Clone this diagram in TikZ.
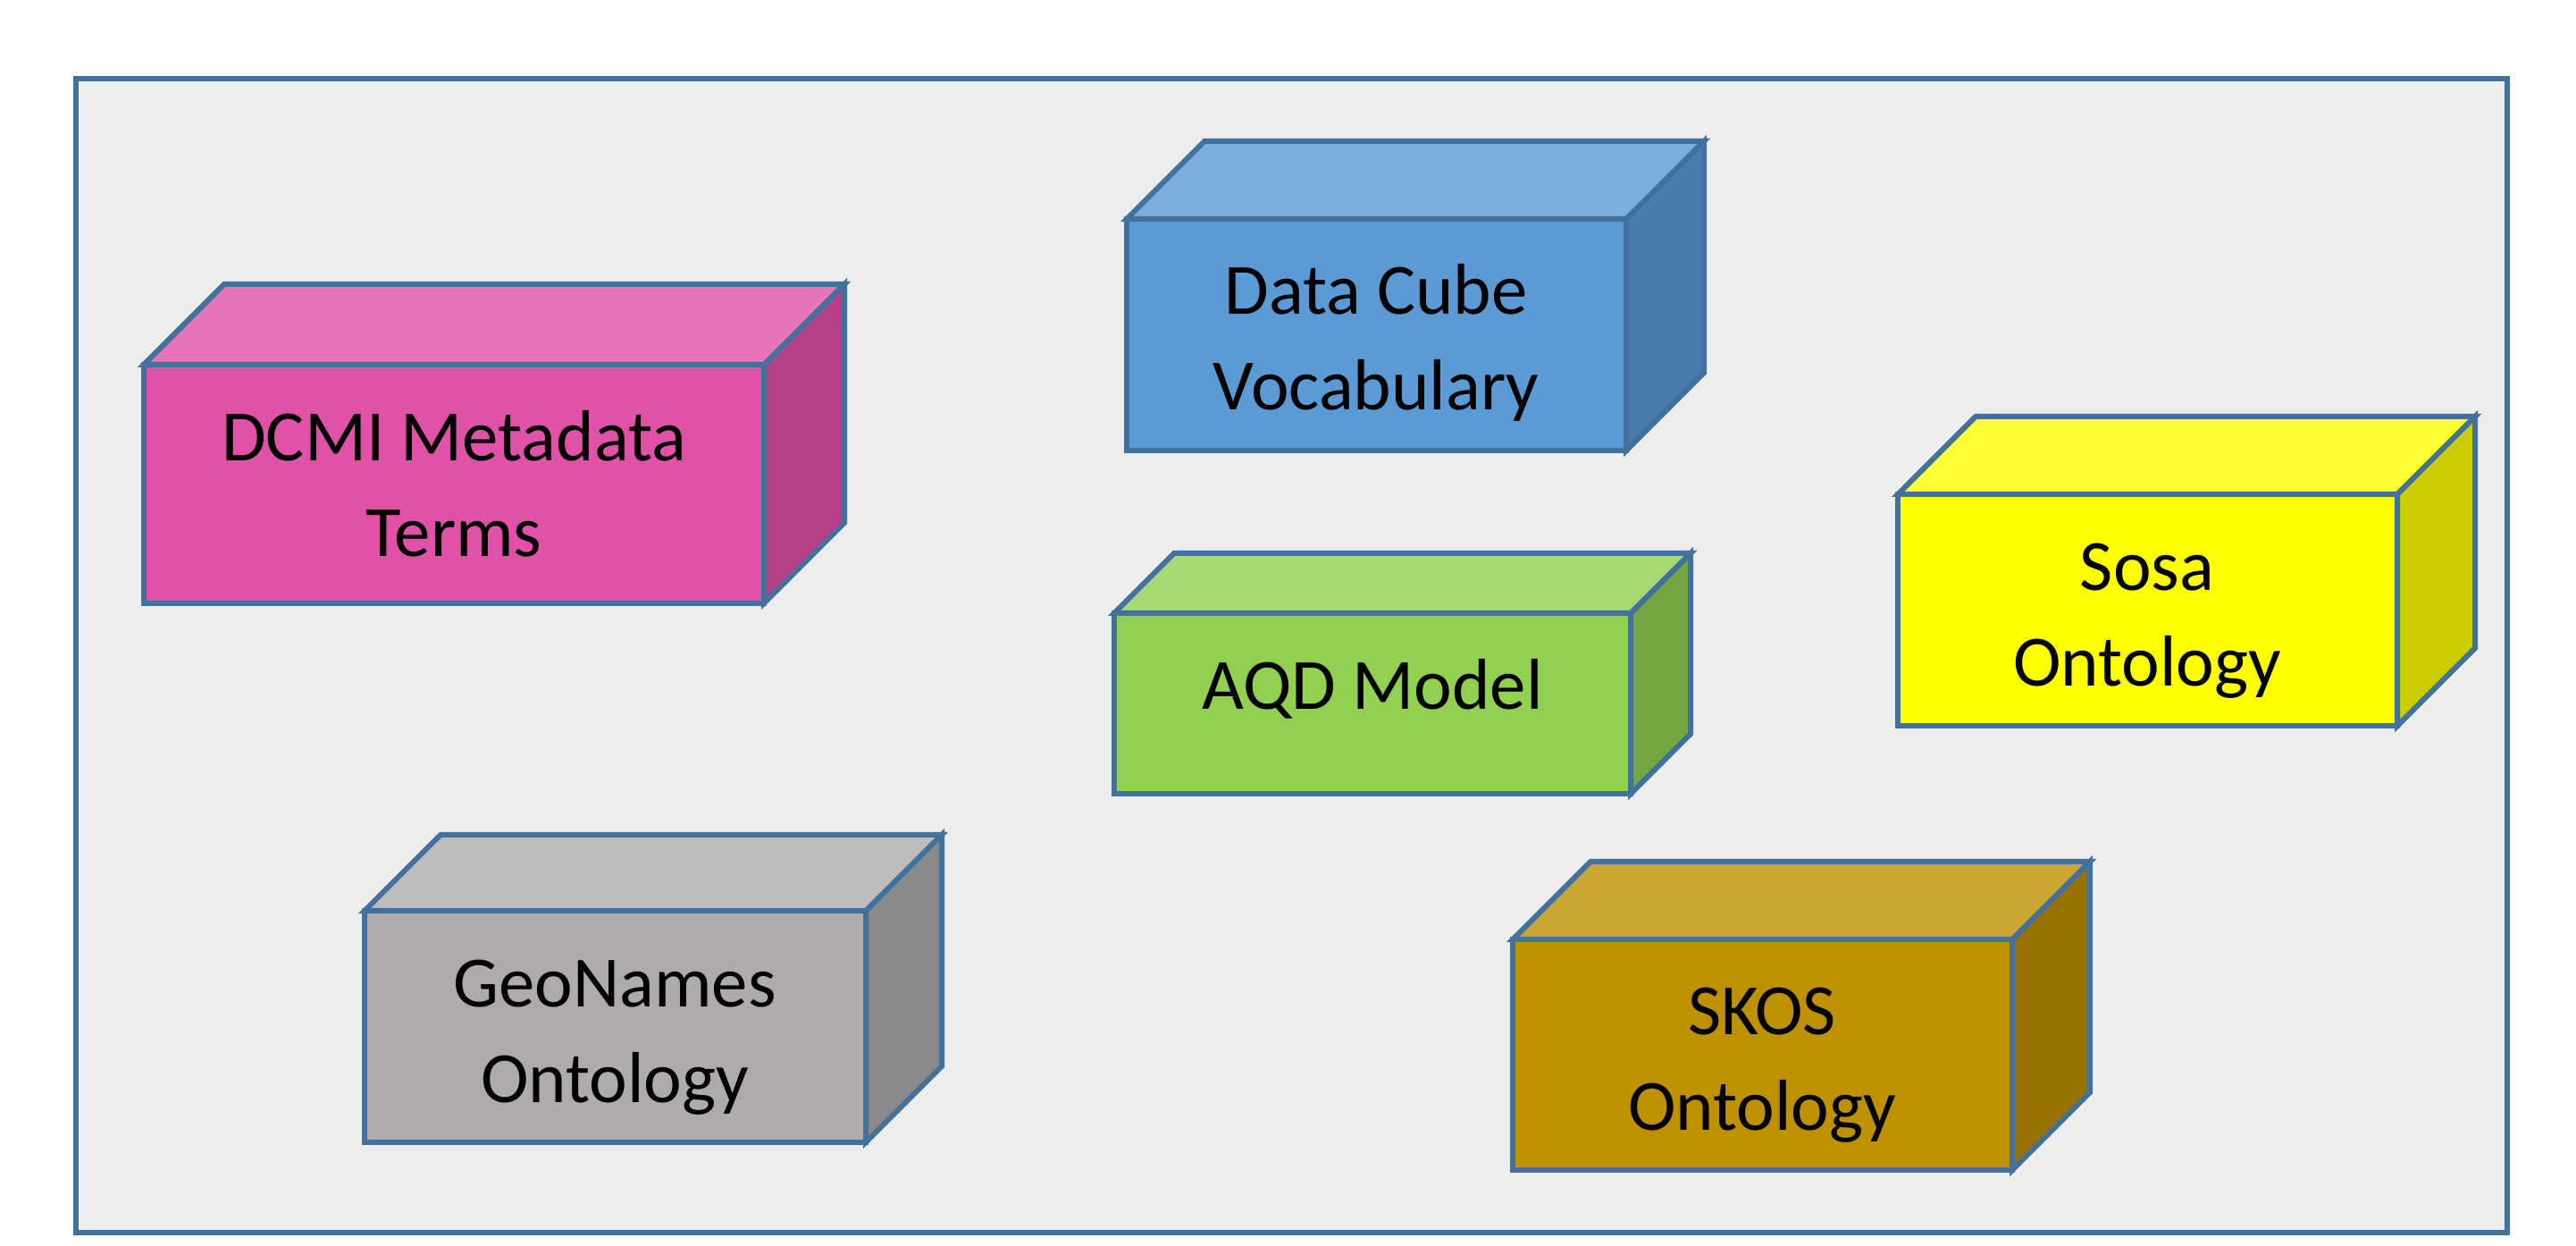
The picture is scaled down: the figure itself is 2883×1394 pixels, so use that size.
\documentclass[tikz,border=0pt]{standalone}
\usepackage{fontspec}
\setmainfont{Carlito}
\definecolor{edge}{HTML}{41719C}
\definecolor{panel}{HTML}{EDEDED}
\definecolor{dcmiF}{HTML}{E052A7}\definecolor{dcmiT}{HTML}{E774B9}\definecolor{dcmiS}{HTML}{B44286}
\definecolor{cubeF}{HTML}{5B9BD5}\definecolor{cubeT}{HTML}{7CAFDD}\definecolor{cubeS}{HTML}{497DAD}
\definecolor{aqdF}{HTML}{92D050}\definecolor{aqdT}{HTML}{A8D974}\definecolor{aqdS}{HTML}{74A73F}
\definecolor{sosaF}{HTML}{FFFF00}\definecolor{sosaT}{HTML}{FFFF33}\definecolor{sosaS}{HTML}{CCCC00}
\definecolor{skosF}{HTML}{BF9000}\definecolor{skosT}{HTML}{CCA633}\definecolor{skosS}{HTML}{997300}
\definecolor{geoF}{HTML}{AFABAB}\definecolor{geoT}{HTML}{BFBCBC}\definecolor{geoS}{HTML}{8C8989}
\newcommand\lnstrut{\rule[-0.2em]{0pt}{0.95em}}
% #1 colour prefix, #2 left, #3 top, #4 right, #5 bottom, #6 depth
\newcommand\cuboidfaces[6]{%
  \draw[boxline, fill=#1T] (#2,#3) -- (#2+#6,#3-#6) -- (#4+#6,#3-#6) -- (#4,#3) -- cycle;
  \draw[boxline, fill=#1S] (#4,#3) -- (#4+#6,#3-#6) -- (#4+#6,#5-#6) -- (#4,#5) -- cycle;
  \draw[boxline, fill=#1F] (#2,#3) rectangle (#4,#5);
}
\tikzset{
  boxline/.style={draw=edge, line width=0.6mm, line join=miter},
  boxlabel/.style={align=center, font=\fontsize{23pt}{30.4pt}\selectfont, text=black, inner sep=0pt},
}
\begin{document}
\begin{tikzpicture}[x=0.1mm, y=-0.1mm]
\useasboundingbox (0,0) rectangle (2883,1394);
\fill[white] (0,0) rectangle (2883,1394);
\draw[draw=edge, fill=panel, line width=0.6mm] (85,88) rectangle (2806,1379);

\cuboidfaces{dcmi}{161}{408}{855}{675}{90}
\node (dcmi) [boxlabel] at (508,547) {\lnstrut DCMI Metadata\\\lnstrut Terms};

\cuboidfaces{cube}{1261}{245}{1820}{504}{87}
\node (cube) [boxlabel] at (1540,383) {\lnstrut Data Cube\\\lnstrut Vocabulary};

\cuboidfaces{aqd}{1247}{686}{1825}{888}{67}
\node (aqd) [boxlabel] at (1536,771) {\lnstrut AQD Model};

\cuboidfaces{sosa}{2124}{553}{2683}{812}{87}
\node (sosa) [boxlabel] at (2403,692) {\lnstrut Sosa\\\lnstrut Ontology};

\cuboidfaces{geo}{408}{1019}{969}{1278}{85}
\node (geo) [boxlabel] at (688,1158) {\lnstrut GeoNames\\\lnstrut Ontology};

\cuboidfaces{skos}{1693}{1051}{2252}{1309}{87}
\node (skos) [boxlabel] at (1972,1189) {\lnstrut SKOS\\\lnstrut Ontology};
\end{tikzpicture}
\end{document}
